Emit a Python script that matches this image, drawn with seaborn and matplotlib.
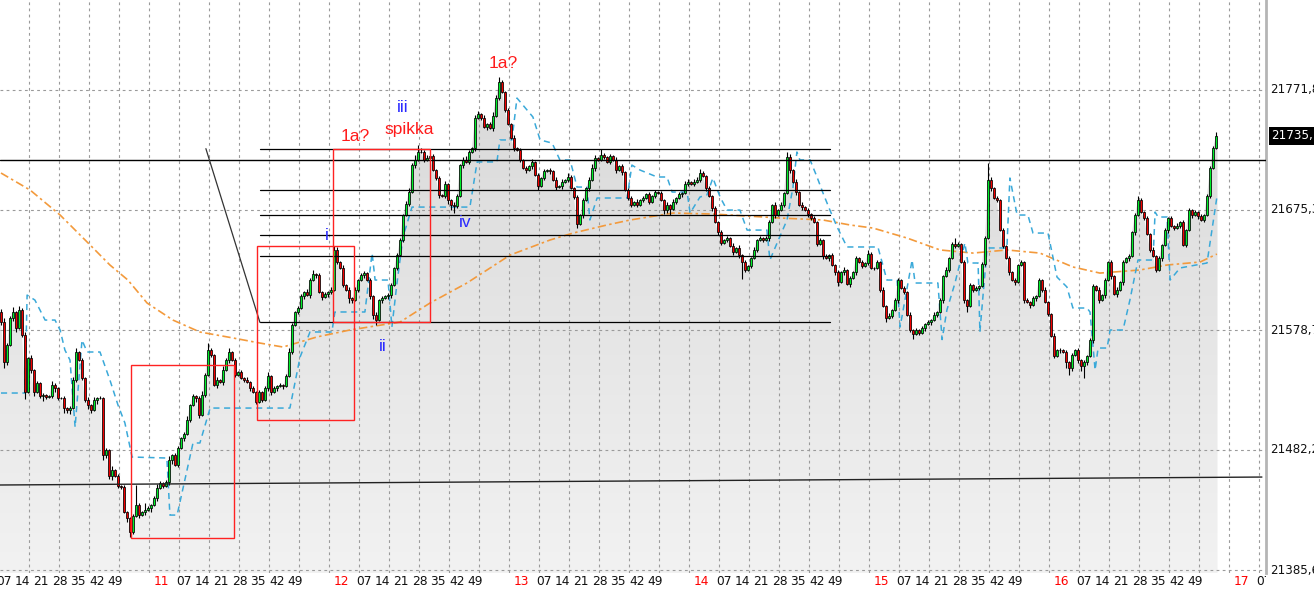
import numpy as np
import pandas as pd
import matplotlib
matplotlib.use('Agg')
import matplotlib.pyplot as plt
import seaborn as sns
from matplotlib.colors import LinearSegmentedColormap
from matplotlib.patches import Rectangle
from matplotlib.transforms import blended_transform_factory, Bbox

# ---------------- data ----------------
first_open = 21593.2
closes = [
    21585.1, 21552.9, 21566.6, 21588.3, 21593.2, 21580.3, 21594.8, 21574.7, 21528.8, 21556.2,
    21546.5, 21528.8, 21536.0, 21525.6, 21526.4, 21524.8, 21525.6, 21534.4, 21532.0, 21524.0,
    21524.0, 21515.9, 21514.3, 21515.9, 21538.5, 21561.0, 21554.5, 21540.1, 21522.4, 21518.3,
    21514.3, 21522.4, 21524.0, 21524.0, 21478.1, 21482.1, 21461.2, 21466.0, 21461.2, 21453.2,
    21452.4, 21432.2, 21427.4, 21416.2, 21429.0, 21437.9, 21429.8, 21432.2, 21433.9, 21435.5,
    21437.9, 21443.5, 21451.6, 21455.6, 21453.2, 21456.4, 21474.1, 21478.1, 21470.1, 21483.7,
    21491.8, 21495.0, 21506.3, 21518.3, 21525.6, 21524.0, 21510.3, 21526.4, 21542.5, 21562.6,
    21558.6, 21534.4, 21538.5, 21536.8, 21546.5, 21554.5, 21561.0, 21554.5, 21542.5, 21544.9,
    21540.1, 21538.5, 21536.8, 21532.0, 21528.8, 21520.8, 21528.8, 21522.4, 21532.0, 21541.7,
    21528.8, 21532.0, 21533.6, 21534.4, 21533.6, 21541.7, 21561.0, 21582.7, 21593.2, 21596.4,
    21606.0, 21609.3, 21606.8, 21618.9, 21623.7, 21622.9, 21609.3, 21605.2, 21607.6, 21609.3,
    21610.9, 21643.1, 21633.4, 21628.6, 21614.9, 21610.9, 21604.4, 21602.8, 21610.9, 21618.9,
    21622.9, 21624.5, 21618.9, 21606.0, 21590.8, 21586.7, 21602.8, 21604.4, 21606.0, 21606.8,
    21614.9, 21628.6, 21639.0, 21651.1, 21671.2, 21680.1, 21689.7, 21711.4, 21715.5, 21721.9,
    21721.9, 21715.5, 21717.1, 21718.7, 21707.4, 21701.0, 21687.3, 21686.5, 21696.2, 21683.3,
    21679.3, 21678.5, 21686.5, 21711.4, 21715.5, 21713.9, 21721.9, 21725.1, 21749.3, 21752.5,
    21749.3, 21742.0, 21744.4, 21741.2, 21750.9, 21765.4, 21778.2, 21770.2, 21755.7, 21744.4,
    21733.2, 21725.1, 21723.5, 21715.5, 21709.0, 21707.4, 21710.6, 21713.9, 21703.4, 21694.5,
    21701.0, 21706.6, 21707.4, 21706.6, 21699.4, 21693.7, 21694.5, 21697.8, 21699.4, 21701.8,
    21692.9, 21685.7, 21664.0, 21671.2, 21683.3, 21692.9, 21699.4, 21709.0, 21717.1, 21715.5,
    21719.5, 21717.9, 21713.9, 21718.7, 21715.5, 21707.4, 21710.6, 21705.8, 21691.3, 21684.9,
    21679.3, 21681.7, 21679.3, 21683.3, 21684.9, 21688.1, 21681.7, 21686.5, 21689.7, 21688.9,
    21683.3, 21675.2, 21679.3, 21676.0, 21681.7, 21684.9, 21688.1, 21688.9, 21696.2, 21697.8,
    21696.2, 21697.8, 21699.4, 21705.0, 21702.6, 21692.9, 21686.5, 21676.8, 21665.6, 21657.5,
    21648.7, 21651.1, 21652.7, 21646.3, 21641.4, 21644.7, 21639.0, 21633.4, 21627.0, 21630.2,
    21636.6, 21643.1, 21651.1, 21652.7, 21651.1, 21652.7, 21665.6, 21679.3, 21671.2, 21675.2,
    21679.3, 21688.9, 21717.9, 21707.4, 21697.8, 21689.7, 21679.3, 21677.6, 21675.2, 21672.0,
    21668.8, 21665.6, 21647.9, 21651.1, 21638.2, 21636.6, 21639.0, 21631.0, 21625.3, 21617.3,
    21625.3, 21627.0, 21615.7, 21620.5, 21625.3, 21636.6, 21633.4, 21630.2, 21632.6, 21639.8,
    21628.6, 21628.6, 21633.4, 21610.9, 21598.0, 21588.3, 21590.0, 21594.8, 21602.8, 21618.9,
    21612.5, 21609.3, 21590.8, 21578.7, 21575.5, 21578.7, 21576.3, 21580.3, 21583.5, 21585.1,
    21586.7, 21590.8, 21593.2, 21602.8, 21622.1, 21627.0, 21636.6, 21647.9, 21646.3, 21647.9,
    21633.4, 21602.8, 21598.0, 21614.9, 21610.9, 21612.5, 21614.1, 21631.8, 21652.7, 21699.4,
    21692.9, 21684.9, 21683.3, 21659.1, 21646.3, 21636.6, 21625.3, 21618.9, 21617.3, 21631.0,
    21633.4, 21602.8, 21601.2, 21598.8, 21604.4, 21606.0, 21618.9, 21610.9, 21601.2, 21591.6,
    21573.9, 21557.8, 21562.6, 21562.6, 21561.0, 21552.9, 21548.1, 21558.6, 21562.6, 21554.5,
    21549.7, 21552.9, 21557.8, 21570.6, 21614.1, 21610.9, 21602.8, 21606.8, 21618.9, 21633.4,
    21622.1, 21607.6, 21610.9, 21617.3, 21633.4, 21636.6, 21638.2, 21657.5, 21671.2, 21683.3,
    21673.6, 21668.8, 21655.9, 21643.1, 21638.2, 21627.0, 21636.6, 21647.1, 21659.1, 21668.8,
    21662.4, 21660.8, 21662.4, 21665.6, 21647.1, 21659.1, 21675.2, 21671.2, 21673.6, 21670.4,
    21667.2, 21671.2, 21686.5, 21709.0, 21725.1, 21735.1,
]
upper_wicks = [
    2, 3, 2, 2, 4, 1, 3, 2, 2, 1,   2, 1, 2, 1, 2, 1, 1, 3, 2, 1,
    1, 2, 1, 2, 2, 3, 1, 2, 1, 2,   1, 2, 1, 2, 1, 2, 1, 3, 1, 2,
    1, 2, 1, 1, 2, 16, 2, 1, 6, 2,  1, 2, 3, 2, 1, 2, 3, 1, 2, 2,
    1, 2, 3, 1, 2, 1, 2, 3, 2, 6,   2, 1, 2, 1, 3, 2, 3, 1, 2, 1,
    2, 1, 2, 1, 2, 1, 2, 1, 2, 3,   1, 2, 1, 2, 1, 2, 3, 2, 1, 2,
    2, 1, 2, 2, 3, 1, 2, 1, 2, 1,   2, 3, 2, 1, 2, 1, 2, 1, 2, 1,
    2, 2, 1, 2, 1, 2, 1, 2, 1, 2,   2, 1, 2, 2, 1, 2, 3, 2, 4, 6,
    3, 2, 2, 1, 2, 1, 2, 1, 2, 1,   1, 2, 2, 1, 2, 3, 2, 1, 2, 2,
    1, 2, 1, 2, 3, 2, 4, 2, 1, 2,   1, 2, 1, 2, 1, 2, 1, 2, 1, 2,
    1, 2, 1, 2, 1, 2, 1, 2, 1, 3,   2, 1, 2, 1, 2, 1, 2, 3, 2, 1,
    5, 2, 1, 2, 1, 2, 1, 2, 1, 2,   2, 1, 2, 1, 2, 1, 2, 1, 2, 1,
    2, 1, 2, 1, 2, 1, 2, 1, 2, 2,   1, 2, 2, 3, 2, 1, 2, 1, 2, 1,
    2, 1, 2, 1, 2, 1, 2, 1, 2, 1,   1, 2, 1, 2, 1, 2, 2, 1, 2, 1,
    2, 1, 4, 2, 1, 2, 1, 2, 1, 2,   1, 2, 1, 2, 1, 2, 1, 2, 1, 2,
    1, 2, 1, 2, 1, 2, 1, 2, 1, 3,   2, 1, 2, 1, 2, 1, 2, 1, 2, 2,
    1, 2, 1, 2, 1, 2, 1, 2, 1, 2,   1, 2, 1, 2, 1, 2, 1, 2, 5, 2,
    1, 2, 1, 2, 1, 2, 1, 2, 2, 14,  2, 1, 2, 1, 2, 1, 2, 1, 2, 1,
    2, 1, 2, 1, 2, 1, 2, 1, 2, 1,   1, 2, 1, 2, 1, 2, 1, 2, 1, 2,
    1, 2, 1, 2, 2, 1, 2, 1, 2, 1,   2, 1, 2, 1, 2, 1, 2, 1, 2, 3,
    2, 1, 2, 1, 2, 1, 2, 1, 2, 1,   2, 1, 2, 1, 2, 1, 2, 1, 2, 1,
    2, 1, 2, 2, 2, 3,
]
lower_wicks = [
    2, 5, 2, 1, 2, 3, 1, 2, 6, 1,   2, 3, 1, 2, 4, 2, 1, 2, 3, 2,
    1, 4, 2, 3, 1, 2, 1, 2, 2, 3,   2, 1, 3, 1, 4, 2, 2, 3, 1, 2,
    2, 1, 3, 4, 2, 1, 2, 1, 2, 1,   3, 1, 2, 1, 2, 1, 2, 3, 1, 2,
    1, 2, 1, 2, 1, 3, 2, 1, 2, 1,   2, 1, 2, 1, 2, 1, 2, 1, 2, 1,
    1, 2, 1, 2, 1, 2, 1, 2, 1, 2,   2, 1, 2, 1, 2, 1, 1, 2, 1, 2,
    1, 2, 1, 2, 1, 2, 1, 2, 1, 2,   2, 1, 2, 1, 2, 1, 4, 2, 1, 2,
    1, 2, 1, 2, 3, 4, 1, 2, 1, 2,   2, 1, 2, 1, 2, 1, 2, 1, 2, 1,
    1, 2, 1, 2, 1, 2, 2, 1, 2, 3,   4, 6, 2, 1, 2, 1, 2, 1, 2, 1,
    2, 1, 2, 1, 2, 1, 2, 1, 2, 1,   1, 2, 1, 2, 1, 2, 1, 2, 1, 3,
    1, 2, 1, 2, 1, 2, 1, 2, 1, 2,   1, 2, 3, 1, 2, 1, 2, 1, 2, 1,
    1, 2, 1, 2, 1, 2, 1, 2, 1, 2,   2, 1, 2, 1, 2, 1, 2, 1, 2, 1,
    1, 3, 2, 5, 1, 2, 1, 2, 1, 2,   1, 2, 1, 2, 1, 2, 1, 2, 1, 2,
    2, 1, 2, 1, 2, 1, 2, 14, 2, 1,  2, 1, 2, 1, 2, 1, 2, 1, 2, 1,
    1, 2, 1, 2, 1, 2, 1, 2, 1, 2,   2, 1, 2, 1, 2, 1, 2, 1, 2, 3,
    1, 2, 1, 2, 1, 2, 1, 2, 1, 2,   1, 2, 1, 2, 1, 3, 1, 2, 1, 2,
    1, 2, 1, 2, 4, 1, 2, 1, 2, 1,   2, 1, 2, 1, 2, 1, 2, 1, 2, 1,
    1, 2, 5, 1, 2, 1, 2, 1, 2, 1,   2, 1, 2, 1, 2, 1, 2, 1, 2, 1,
    1, 2, 1, 2, 1, 2, 1, 2, 1, 2,   1, 2, 1, 2, 1, 5, 6, 2, 1, 2,
    4, 10, 2, 1, 2, 1, 2, 1, 2, 1,  2, 1, 2, 1, 2, 1, 2, 1, 2, 1,
    1, 2, 1, 2, 1, 2, 1, 2, 1, 2,   1, 2, 1, 2, 1, 2, 1, 2, 1, 2,
    1, 2, 1, 2, 1, 1,
]
# stepped trailing line (cyan dashed)
stop_bar = [0, 8, 8.7, 11.3, 14.7, 18, 19.7, 21.3, 23, 24.7, 27, 28.7, 33, 36.3, 39, 41.3, 43.7,
            55.3, 56.3, 58.7, 64, 66.3, 69.7, 96.3, 99.7, 103, 110.3, 111.3, 121.3, 123.7,
            124.7, 129, 130.3, 132, 134, 137, 156.3, 158.7, 165.3, 166.3, 170.3, 172, 177.3,
            179.7, 183.7, 186.3, 189.7, 192, 195.3, 196.3, 198.7, 208.7, 210.3, 213, 218.7,
            222, 223.7, 228.7, 229.7, 233, 235.3, 237.3, 239.7, 242, 246.3, 248.7, 255.3,
            256.3, 258.7, 262, 264, 265.3, 266.3, 269.7, 272, 274, 276.3, 278.7, 282, 292.3,
            295.3, 298.7, 299.7, 303.7, 304.7, 312.3, 313.7, 315.3, 318, 321.3, 322.3, 325.7,
            326.3, 328.7, 335.3, 336.3, 338.7, 342.3, 344, 349, 352, 355.3, 357.3, 362, 363,
            364.7, 365.7, 368.7, 369.7, 374, 376.3, 379, 384, 384.7, 385.7, 388.7, 389.7,
            393, 402, 404, 405.3]
stop_price = [21528.0, 21528.0, 21606.8, 21602.8, 21586.7, 21586.7, 21578.7, 21562.6, 21554.5,
              21500.6, 21570.6, 21561.0, 21561.0, 21538.5, 21518.3, 21503.9, 21476.5,
              21475.7, 21429.8, 21429.8, 21487.8, 21487.8, 21515.9, 21515.9, 21557.0,
              21577.1, 21577.1, 21593.2, 21593.2, 21640.6, 21618.9, 21618.9, 21581.1,
              21616.5, 21653.5, 21677.6, 21677.6, 21713.9, 21713.9, 21731.6, 21731.6,
              21765.3, 21750.1, 21731.6, 21729.1, 21715.5, 21715.5, 21693.7, 21693.7,
              21667.2, 21684.9, 21684.9, 21711.4, 21707.4, 21701.8, 21701.8, 21689.7,
              21689.7, 21672.8, 21685.7, 21687.3, 21701.0, 21685.7, 21675.2, 21675.2,
              21659.1, 21659.1, 21635.0, 21648.7, 21667.2, 21693.7, 21721.9, 21715.5,
              21715.5, 21701.8, 21688.9, 21675.2, 21661.6, 21645.5, 21645.5, 21618.9,
              21618.9, 21581.1, 21635.0, 21616.5, 21616.5, 21571.0, 21594.8, 21616.5,
              21648.7, 21632.6, 21632.6, 21577.1, 21644.7, 21644.7, 21701.0, 21671.2,
              21671.2, 21656.7, 21656.7, 21621.3, 21613.3, 21596.4, 21596.4, 21593.2,
              21546.5, 21564.2, 21564.2, 21578.7, 21578.7, 21602.8, 21635.0, 21635.0,
              21673.6, 21669.6, 21669.6, 21618.9, 21628.6, 21632.6, 21664.8, 21685.7]
# slow moving average (orange dash-dot)
ma_bar = [0, 9.7, 19.7, 29.7, 36.3, 42.3, 48.7, 57.3, 66.3, 77.3, 86.3, 94, 105.3, 116.3, 133,
          143, 155.3, 169.7, 183, 190.7, 202, 209.7, 224, 237.3, 248.7, 259.7, 274, 283,
          290.7, 302, 313, 324, 335.3, 346.3, 357.3, 366.3, 379.7, 388.7, 399.7, 405.3]
ma_price = [21705.0, 21691.3, 21671.2, 21647.1, 21631.0, 21618.9, 21600.4, 21586.7, 21577.1,
            21572.3, 21568.2, 21565.0, 21573.1, 21578.7, 21585.1, 21600.4, 21616.5, 21639.0,
            21651.1, 21656.7, 21663.2, 21667.2, 21672.8, 21672.0, 21670.4, 21668.8, 21667.2,
            21663.2, 21660.7, 21652.7, 21643.1, 21640.6, 21643.1, 21640.6, 21629.4, 21624.5,
            21627.0, 21631.0, 21633.4, 21639.8]

price_ticks = [21771.8, 21675.3, 21578.7, 21482.2, 21385.6]
hour_labels = ['10', '11', '12', '13', '14', '15', '16', '17']
minute_labels = ['07', '14', '21', '28', '35', '42', '49']
last_price = 21735.1
hline_price = 21715.5
fib_high, fib_low = 21724.6, 21584.9
fib_levels = [0.0, 0.236, 0.382, 0.5, 0.618, 1.0]
fib_start_bar, fib_end_bar = 86.3, 276.3
fib_anchor_bar = 68.3
trend_prices = [21454.0, 21460.4]
boxes = [(43.3, 77.7, 21411.3, 21550.5),
         (85.4, 117.8, 21506.3, 21646.0),
         (110.8, 143.1, 21584.9, 21724.6)]
notes = [('1a?', 167.3, 21793.5, '#ff1c1c'),
         ('iii', 134.0, 21758.1, '#2b2bff'),
         ('spikka', 136.0, 21740.4, '#ff1c1c'),
         ('1a?', 118.0, 21734.0, '#ff1c1c'),
         ('i', 108.7, 21655.1, '#2b2bff'),
         ('iv', 154.7, 21664.8, '#2b2bff'),
         ('ii', 127.3, 21565.8, '#2b2bff')]

assert len(closes) == len(upper_wicks) == len(lower_wicks), (len(closes), len(upper_wicks), len(lower_wicks))

# ---------------- build ----------------
n = len(closes)
bars = np.arange(n)
close = np.array(closes)
opens = np.concatenate([[first_open], close[:-1]])
high = np.maximum(opens, close) + np.array(upper_wicks)
low = np.minimum(opens, close) - np.array(lower_wicks)
df = pd.DataFrame({'bar': bars, 'open': opens, 'close': close, 'high': high, 'low': low})

sns.set_style('white')
plt.rcParams['font.family'] = ['DejaVu Sans']

W, H = 1314, 589
fig = plt.figure(figsize=(W / 100, H / 100), dpi=100)
ax = fig.add_axes([0, 16 / H, 1266 / W, 573 / H])
XMIN, XMAX = -1 / 3, 1265 / 3
YMIN, YMAX = 21383.2, 21844.2

# gradient area under close
xf = np.concatenate([[XMIN], bars, [n - 0.5]])
yf = np.concatenate([[close[0]], close, [close[-1]]])
poly = ax.fill_between(xf, yf, YMIN, color='none', linewidth=0)
cmap = LinearSegmentedColormap.from_list('g', ['#d5d5d5', '#f2f2f2'])
im = ax.imshow(np.linspace(0, 1, 256).reshape(-1, 1), extent=[XMIN, XMAX, YMIN, YMAX],
               aspect='auto', cmap=cmap, origin='upper', zorder=0.5, interpolation='bilinear')
im.set_clip_path(poly.get_paths()[0], ax.transData)

# grid
gstyle = dict(color='#9a9a9a', lw=0.8, linestyle=(0, (2.5, 3)), zorder=1)
for k in range(1, 43):
    ax.axvline(10 * k - 0.57, **gstyle)
for p in price_ticks:
    ax.axhline(p, **gstyle)

# lines: horizontal, trend, fib
ax.axhline(hline_price, color='black', lw=1.0, zorder=4)
ax.plot([XMIN, 420.3], trend_prices, color='#222222', lw=1.0, zorder=4)
for lv in fib_levels:
    pr = fib_high - lv * (fib_high - fib_low)
    ax.plot([fib_start_bar, fib_end_bar], [pr, pr], color='black', lw=0.9, zorder=4)
ax.plot([fib_anchor_bar, fib_start_bar], [fib_high, fib_low], color='#333333', lw=0.9, zorder=4)

# indicators via seaborn
sns.lineplot(x=ma_bar, y=ma_price, ax=ax, color='#f39a3c', lw=1.2, estimator=None, sort=False,
             linestyle=(0, (5, 2, 1.5, 2)), zorder=2.5)
sns.lineplot(x=stop_bar, y=stop_price, ax=ax, color='#3aa9d9', lw=1.1, estimator=None, sort=False,
             linestyle=(0, (4, 3)), zorder=2.6)

# candles
up = df['close'] >= df['open']
ax.vlines(df['bar'], df['low'], df['high'], color='black', lw=0.8, zorder=3)
ax.bar(df['bar'], df['close'] - df['open'], bottom=df['open'], width=0.9,
       color=np.where(up, '#00ee2a', '#f20000'), edgecolor='black', linewidth=0.55, zorder=3.2)

# boxes
for x0, x1, y0, y1 in boxes:
    ax.add_patch(Rectangle((x0, y0), x1 - x0, y1 - y0, fill=False, edgecolor='#ff2222', lw=1.0, zorder=5))

# annotations
for txt, bx, py, col in notes:
    ax.text(bx, py, txt, color=col, fontsize=12.5, ha='center', va='center',
            family=['Liberation Sans', 'DejaVu Sans'], zorder=6)

ax.set_xlim(XMIN, XMAX)
ax.set_ylim(YMIN, YMAX)
ax.set_xticks([])
ax.set_yticks([])
for s in ['left', 'top', 'bottom']:
    ax.spines[s].set_visible(False)
ax.spines['right'].set_color('#b5b5b5')
ax.spines['right'].set_linewidth(2)

# right price labels
tr = blended_transform_factory(ax.transAxes, ax.transData)
for p in price_ticks:
    ax.text(1.0032, p, f'{p:.1f}'.replace('.', ','), transform=tr, ha='left', va='center',
            fontsize=8.6, color='#111111', clip_on=False)
ax.text(1.0040, last_price, f'{last_price:.1f}'.replace('.', ','), transform=tr, ha='left',
        va='center', fontsize=8.6, color='white', clip_on=False,
        bbox=dict(facecolor='black', edgecolor='none', pad=1.8))

# bottom time labels
trx = blended_transform_factory(ax.transData, ax.transAxes)
clipbox = Bbox([[0, 0], [1266, H]])
minute_offsets = [7.47, 13.73, 20.0, 26.1, 32.27, 38.47, 44.6]
for h, hl in enumerate(hour_labels):
    base = 50.87 + 60 * (h - 1)
    items = [(base, hl, '#ff0000')] + [(base + o, m, '#111111') for o, m in zip(minute_offsets, minute_labels)]
    for pos, lab, col in items:
        if pos < -3 or pos > 421:
            continue
        t = ax.text(pos, -0.0145, lab, transform=trx, ha='left', va='center', fontsize=8.8,
                    color=col, clip_on=True)
        t.set_clip_box(clipbox)

fig.savefig('out.png', dpi=100)
